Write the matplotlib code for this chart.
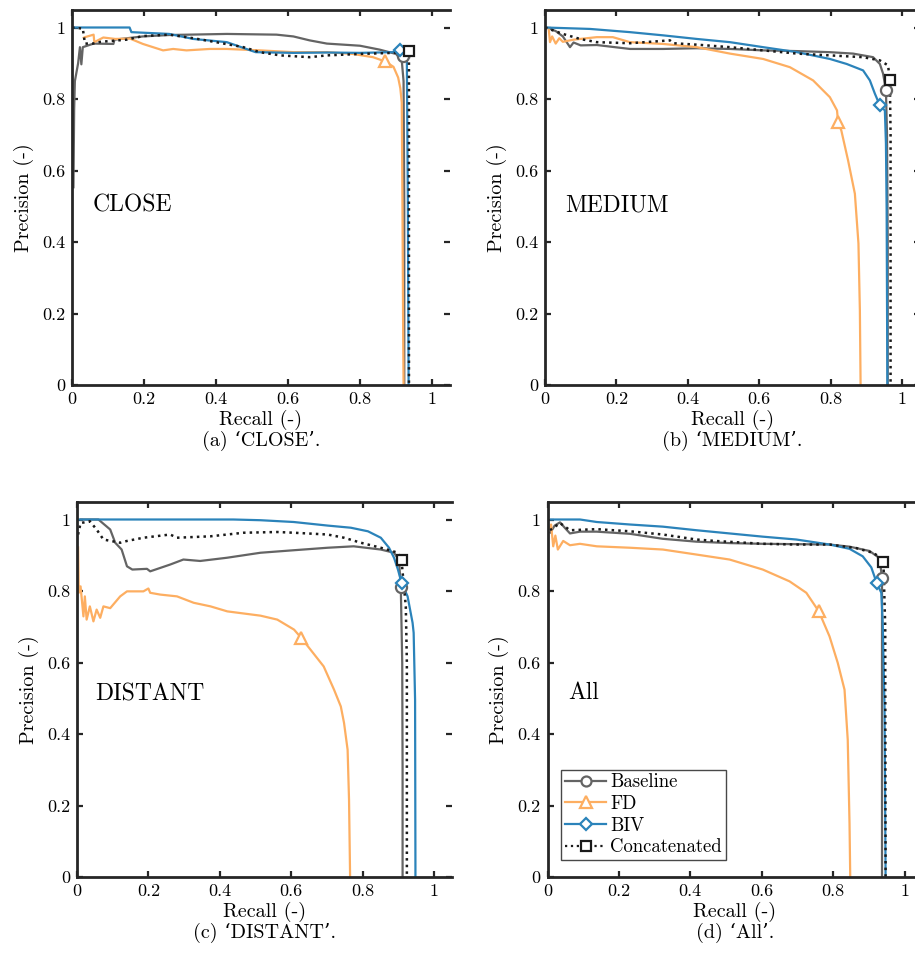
import matplotlib
matplotlib.use("Agg")
import matplotlib.pyplot as plt
from matplotlib.lines import Line2D

plt.rcParams['font.family'] = ['cmr10', 'DejaVu Serif']
plt.rcParams['mathtext.fontset'] = 'cm'
plt.rcParams['axes.unicode_minus'] = False
plt.rcParams['axes.formatter.use_mathtext'] = True

# ---- data ----
methods = ['Baseline', 'FD', 'BIV', 'Concatenated']
panel_names = ['CLOSE', 'MEDIUM', 'DISTANT', 'All']
captions = ['(a) \u2018CLOSE\u2019.', '(b) \u2018MEDIUM\u2019.',
            '(c) \u2018DISTANT\u2019.', '(d) \u2018All\u2019.']

# CLOSE
close_base_r = [0.004, 0.006, 0.008, 0.017, 0.022, 0.026, 0.03, 0.06, 0.115, 0.118, 0.197, 0.27, 0.43,
                0.568, 0.615, 0.66, 0.708, 0.8, 0.855, 0.9, 0.916, 0.921, 0.923, 0.923]
close_base_p = [0.55, 0.77, 0.85, 0.9, 0.945, 0.897, 0.945, 0.955, 0.954, 0.966, 0.975, 0.979, 0.982,
                0.98, 0.975, 0.964, 0.955, 0.949, 0.938, 0.926, 0.908, 0.85, 0.5, 0.0]
close_fd_r = [0.03, 0.036, 0.06, 0.062, 0.087, 0.12, 0.161, 0.197, 0.253, 0.281, 0.318, 0.383, 0.43,
              0.522, 0.615, 0.71, 0.78, 0.836, 0.87, 0.893, 0.906, 0.912, 0.916, 0.918, 0.92, 0.921]
close_fd_p = [0.97, 0.973, 0.98, 0.959, 0.972, 0.968, 0.969, 0.954, 0.936, 0.94, 0.936, 0.94, 0.94,
              0.936, 0.931, 0.931, 0.926, 0.917, 0.905, 0.89, 0.86, 0.83, 0.79, 0.49, 0.12, 0.0]
close_biv_r = [0.0, 0.16, 0.165, 0.27, 0.337, 0.43, 0.51, 0.615, 0.708, 0.8, 0.89, 0.911, 0.93, 0.933, 0.935]
close_biv_p = [1.0, 1.0, 0.987, 0.982, 0.968, 0.959, 0.931, 0.929, 0.93, 0.929, 0.931, 0.936, 0.93, 0.5, 0.0]
close_cat_r = [0.0, 0.03, 0.036, 0.058, 0.08, 0.152, 0.197, 0.27, 0.337, 0.4, 0.476, 0.522, 0.578,
               0.66, 0.708, 0.8, 0.89, 0.936, 0.936, 0.936]
close_cat_p = [1.0, 0.997, 0.955, 0.955, 0.96, 0.966, 0.976, 0.98, 0.97, 0.959, 0.945, 0.931, 0.922,
               0.917, 0.922, 0.926, 0.929, 0.934, 0.5, 0.0]
close_op_r = [0.92, 0.87, 0.911, 0.936]
close_op_p = [0.92, 0.905, 0.936, 0.934]

# MEDIUM
medium_base_r = [0.005, 0.03, 0.05, 0.07, 0.08, 0.10, 0.145, 0.238, 0.331, 0.425, 0.518, 0.611, 0.706,
                 0.798, 0.863, 0.919, 0.938, 0.947, 0.955, 0.958, 0.96, 0.96]
medium_base_p = [1.0, 0.99, 0.975, 0.945, 0.958, 0.95, 0.951, 0.94, 0.94, 0.942, 0.94, 0.936, 0.934,
                 0.931, 0.927, 0.917, 0.898, 0.871, 0.826, 0.7, 0.4, 0.0]
medium_fd_r = [0.01, 0.014, 0.02, 0.03, 0.04, 0.05, 0.08, 0.145, 0.19, 0.238, 0.331, 0.425, 0.518, 0.611,
               0.686, 0.751, 0.798, 0.818, 0.821, 0.83, 0.849, 0.868, 0.878, 0.882, 0.884]
medium_fd_p = [1.0, 0.959, 0.975, 0.955, 0.97, 0.96, 0.966, 0.973, 0.973, 0.959, 0.954, 0.945, 0.927,
               0.912, 0.889, 0.852, 0.805, 0.768, 0.735, 0.712, 0.628, 0.535, 0.396, 0.209, 0.0]
medium_biv_r = [0.0, 0.126, 0.238, 0.331, 0.425, 0.518, 0.611, 0.706, 0.798, 0.845, 0.891, 0.91,
                0.924, 0.938, 0.952, 0.955, 0.957, 0.959]
medium_biv_p = [1.0, 0.996, 0.987, 0.978, 0.968, 0.959, 0.945, 0.931, 0.912, 0.898, 0.88, 0.852,
                0.815, 0.782, 0.768, 0.676, 0.489, 0.0]
medium_cat_r = [0.0, 0.05, 0.098, 0.145, 0.238, 0.35, 0.36, 0.425, 0.518, 0.611, 0.706, 0.798, 0.891,
                0.938, 0.961, 0.966, 0.968, 0.968]
medium_cat_p = [1.0, 0.982, 0.968, 0.959, 0.956, 0.964, 0.956, 0.952, 0.945, 0.936, 0.927, 0.922,
                0.917, 0.908, 0.894, 0.852, 0.7, 0.0]
medium_op_r = [0.955, 0.821, 0.938, 0.966]
medium_op_p = [0.826, 0.735, 0.782, 0.852]

# DISTANT
distant_base_r = [0.008, 0.06, 0.093, 0.107, 0.125, 0.14, 0.155, 0.196, 0.205, 0.261, 0.298, 0.345,
                  0.42, 0.514, 0.607, 0.702, 0.775, 0.851, 0.888, 0.902, 0.907, 0.911, 0.912, 0.912]
distant_base_p = [1.0, 1.0, 0.972, 0.935, 0.916, 0.869, 0.86, 0.862, 0.855, 0.874, 0.888, 0.884,
                  0.893, 0.907, 0.914, 0.921, 0.925, 0.916, 0.907, 0.886, 0.81, 0.6, 0.3, 0.0]
distant_fd_r = [0.003, 0.005, 0.01, 0.018, 0.022, 0.027, 0.036, 0.046, 0.055, 0.065, 0.074, 0.093,
                0.121, 0.14, 0.186, 0.2, 0.205, 0.233, 0.28, 0.327, 0.374, 0.421, 0.514, 0.561,
                0.608, 0.628, 0.654, 0.691, 0.72, 0.739, 0.748, 0.758, 0.762, 0.765]
distant_fd_p = [0.925, 0.795, 0.813, 0.729, 0.785, 0.72, 0.757, 0.715, 0.748, 0.725, 0.757, 0.752,
                0.785, 0.799, 0.799, 0.807, 0.795, 0.79, 0.785, 0.767, 0.757, 0.743, 0.731, 0.72,
                0.692, 0.669, 0.636, 0.589, 0.524, 0.477, 0.431, 0.356, 0.216, 0.0]
distant_biv_r = [0.0, 0.438, 0.514, 0.607, 0.702, 0.767, 0.815, 0.851, 0.874, 0.888, 0.899, 0.909,
                 0.926, 0.94, 0.943, 0.947, 0.948, 0.948]
distant_biv_p = [1.0, 1.0, 0.998, 0.993, 0.983, 0.977, 0.967, 0.949, 0.921, 0.893, 0.86, 0.823,
                 0.785, 0.711, 0.683, 0.496, 0.028, 0.0]
distant_cat_r = [0.003, 0.01, 0.036, 0.055, 0.074, 0.121, 0.14, 0.186, 0.261, 0.28, 0.374, 0.467,
                 0.561, 0.607, 0.702, 0.748, 0.795, 0.851, 0.899, 0.909, 0.921, 0.924, 0.924]
distant_cat_p = [0.958, 0.99, 0.995, 0.972, 0.944, 0.935, 0.94, 0.949, 0.958, 0.949, 0.953, 0.963,
                 0.965, 0.963, 0.958, 0.949, 0.935, 0.921, 0.907, 0.886, 0.757, 0.6, 0.0]
distant_op_r = [0.907, 0.628, 0.909, 0.909]
distant_op_p = [0.81, 0.669, 0.823, 0.886]

# All
all_base_r = [0.007, 0.02, 0.035, 0.05, 0.063, 0.091, 0.138, 0.231, 0.277, 0.323, 0.417, 0.51, 0.603,
              0.697, 0.79, 0.846, 0.902, 0.93, 0.937, 0.937, 0.937]
all_base_p = [0.961, 0.983, 0.992, 0.975, 0.961, 0.966, 0.966, 0.96, 0.953, 0.946, 0.938, 0.934,
              0.932, 0.931, 0.93, 0.924, 0.912, 0.892, 0.837, 0.5, 0.0]
all_fd_r = [0.007, 0.01, 0.016, 0.022, 0.029, 0.044, 0.063, 0.091, 0.138, 0.231, 0.323, 0.417, 0.51,
            0.603, 0.678, 0.725, 0.76, 0.79, 0.813, 0.832, 0.841, 0.846, 0.848]
all_fd_p = [0.972, 0.986, 0.925, 0.955, 0.916, 0.94, 0.928, 0.932, 0.925, 0.921, 0.916, 0.902, 0.888,
            0.86, 0.827, 0.795, 0.743, 0.673, 0.599, 0.524, 0.384, 0.15, 0.0]
all_biv_r = [0.007, 0.091, 0.138, 0.231, 0.323, 0.417, 0.51, 0.603, 0.697, 0.79, 0.846, 0.883, 0.907,
             0.922, 0.935, 0.939, 0.944, 0.947]
all_biv_p = [1.0, 1.0, 0.993, 0.986, 0.98, 0.97, 0.961, 0.952, 0.944, 0.93, 0.918, 0.897, 0.866,
             0.823, 0.795, 0.711, 0.477, 0.0]
all_cat_r = [0.007, 0.035, 0.063, 0.138, 0.231, 0.323, 0.417, 0.47, 0.603, 0.697, 0.79, 0.865, 0.911,
             0.935, 0.941, 0.946, 0.947]
all_cat_p = [0.97, 0.99, 0.97, 0.973, 0.967, 0.958, 0.944, 0.94, 0.932, 0.93, 0.93, 0.92, 0.907,
             0.893, 0.88, 0.7, 0.0]
all_op_r = [0.937, 0.76, 0.922, 0.941]
all_op_p = [0.837, 0.743, 0.823, 0.88]

panels = [
    [(close_base_r, close_base_p), (close_fd_r, close_fd_p), (close_biv_r, close_biv_p),
     (close_cat_r, close_cat_p), (close_op_r, close_op_p)],
    [(medium_base_r, medium_base_p), (medium_fd_r, medium_fd_p), (medium_biv_r, medium_biv_p),
     (medium_cat_r, medium_cat_p), (medium_op_r, medium_op_p)],
    [(distant_base_r, distant_base_p), (distant_fd_r, distant_fd_p), (distant_biv_r, distant_biv_p),
     (distant_cat_r, distant_cat_p), (distant_op_r, distant_op_p)],
    [(all_base_r, all_base_p), (all_fd_r, all_fd_p), (all_biv_r, all_biv_p),
     (all_cat_r, all_cat_p), (all_op_r, all_op_p)],
]

# ---- style ----
colors = ['#646464', '#fdae61', '#2b83ba', '#1a1a1a']
styles = ['-', '-', '-', ':']
markers = ['o', '^', 'D', 's']
msizes = [8, 9, 6.5, 7.5]
spine_col = '#262626'

fig = plt.figure(figsize=(9.15, 9.66), dpi=100)
W, H = 915.0, 966.0
# axes boxes in pixels: left, bottom (y=0), px per unit
boxes = [(72, 385, 360), (545, 385, 357), (77, 877, 357), (547.5, 877, 357)]
text_pos = [(0.056, 0.503), (0.056, 0.503), (0.05, 0.51), (0.057, 0.515)]

for k, (left, bottom, sc) in enumerate(boxes):
    w = 1.05 * sc
    h = 1.05 * 357.5
    ax = fig.add_axes([left / W, (H - bottom) / H, w / W, h / H])
    data = panels[k]
    for i in range(4):
        r, p = data[i]
        ax.plot(r, p, color=colors[i], ls=styles[i], lw=1.6 if i < 3 else 1.8,
                solid_capstyle='butt', zorder=2 + i * 0.1)
    op_r, op_p = data[4]
    for i in range(4):
        ax.plot(op_r[i], op_p[i], marker=markers[i], ms=msizes[i], mfc='white',
                mec=colors[i], mew=1.6, ls='none', zorder=4 + i * 0.1)
    ax.set_xlim(0, 1.05)
    ax.set_ylim(0, 1.05)
    ax.set_xticks([0, 0.2, 0.4, 0.6, 0.8, 1])
    ax.set_yticks([0, 0.2, 0.4, 0.6, 0.8, 1])
    ax.set_xticklabels(['0', '0.2', '0.4', '0.6', '0.8', '1'])
    ax.set_yticklabels(['0', '0.2', '0.4', '0.6', '0.8', '1'])
    ax.tick_params(direction='in', length=4, width=1.6, top=True, right=True,
                   labelsize=13, color=spine_col, pad=5)
    for s in ['left', 'bottom', 'top']:
        ax.spines[s].set_linewidth(2.0)
        ax.spines[s].set_color(spine_col)
    ax.spines['right'].set_visible(False)
    ax.set_xlabel('Recall (-)', fontsize=14.5, labelpad=2)
    ax.set_ylabel('Precision (-)', fontsize=14.5, labelpad=6)
    tx, ty = text_pos[k]
    ax.text(tx, ty, panel_names[k], fontsize=17, ha='left', va='center')
    ax.text(0.5, -0.148, captions[k], transform=ax.transAxes, fontsize=14.5,
            ha='center', va='center')
    if k == 3:
        handles = [Line2D([], [], color=colors[i], ls=styles[i], lw=1.6, marker=markers[i],
                          ms=msizes[i] * 0.9, mfc='white', mec=colors[i], mew=1.6)
                   for i in range(4)]
        leg = ax.legend(handles, methods, loc='lower left', bbox_to_anchor=(0.037, 0.045),
                        fontsize=13.5, frameon=True, fancybox=False, handlelength=2.2,
                        handletextpad=0.2, borderpad=0.2, labelspacing=0.2,
                        borderaxespad=0)
        leg.get_frame().set_edgecolor('#1a1a1a')
        leg.get_frame().set_linewidth(1.0)

fig.savefig('out.png', dpi=100)
